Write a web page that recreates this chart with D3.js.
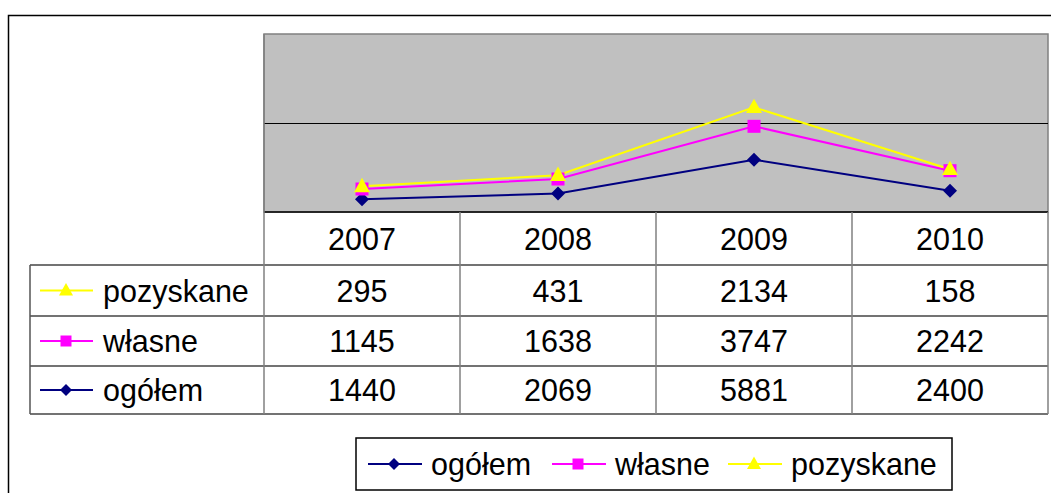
<!DOCTYPE html>
<html>
<head>
<meta charset="utf-8">
<script src="https://cdn.jsdelivr.net/npm/d3@7"></script>
<style>
  body { margin: 0; background: #fff; }
  text { font-family: "Liberation Sans", Arial, sans-serif; fill: #000; }
</style>
</head>
<body>
<svg id="chart" width="1051" height="493"></svg>
<script>
// values
var years = ["2007", "2008", "2009", "2010"];
var ogolem = [1440, 2069, 5881, 2400];
var wlasne = [1145, 1638, 3747, 2242];
var pozyskane = [295, 431, 2134, 158];
var yTicks = [0, 10000, 20000];

var series = [
    {key: "ogółem", values: ogolem, color: "#000080", shape: "diamond"},
    {key: "własne", values: wlasne, color: "#ff00ff", shape: "square"},
    {key: "pozyskane", values: pozyskane, color: "#ffff00", shape: "triangle"}
];

var plot = {left: 264, right: 1048, top: 34, bottom: 212};
var tableLeft = 30;
var rowEdges = [212, 265, 316, 366, 414];

var svg = d3.select("#chart");

// outer frame (runs off the right and bottom edge)
svg.append("rect")
    .attr("x", 8.5).attr("y", 15.5)
    .attr("width", 1200).attr("height", 600)
    .attr("fill", "none").attr("stroke", "#000").attr("stroke-width", 1.5);

var x = d3.scaleBand().domain(years).range([plot.left, plot.right]);
var y = d3.scaleLinear().domain([0, 20000]).range([plot.bottom, plot.top]);

// stacked line chart: ogółem at the bottom
var rows = years.map(function(yr, i) {
    var o = {year: yr};
    series.forEach(function(s) { o[s.key] = s.values[i]; });
    return o;
});
var stack = d3.stack().keys(series.map(function(s) { return s.key; }));
var stacked = stack(rows);

// plot area
svg.append("rect")
    .attr("x", plot.left).attr("y", plot.top)
    .attr("width", plot.right - plot.left).attr("height", plot.bottom - plot.top)
    .attr("fill", "#c0c0c0").attr("stroke", "#808080").attr("stroke-width", 1.5);

svg.append("g").selectAll("line")
    .data(yTicks.slice(1, -1))
    .enter().append("line")
    .attr("x1", plot.left).attr("x2", plot.right)
    .attr("y1", function(d) { return Math.round(y(d)) + 0.5; })
    .attr("y2", function(d) { return Math.round(y(d)) + 0.5; })
    .attr("stroke", "#000").attr("stroke-width", 1.2);

function marker(shape, r) {
    if (shape === "diamond") {
        return "M0," + (-r) + "L" + r + ",0L0," + r + "L" + (-r) + ",0Z";
    }
    if (shape === "square") {
        return "M" + (-r) + "," + (-r) + "h" + (2 * r) + "v" + (2 * r) + "h" + (-2 * r) + "Z";
    }
    var h = r * 1.8;
    return "M0," + (-h * 0.6) + "L" + r + "," + (h * 0.4) + "L" + (-r) + "," + (h * 0.4) + "Z";
}
var markerSize = {diamond: 7, square: 6.5, triangle: 8};

var line = d3.line()
    .x(function(d) { return x(d.data.year) + x.bandwidth() / 2; })
    .y(function(d) { return y(d[1]); });

stacked.forEach(function(layer, i) {
    var s = series[i];
    svg.append("path")
        .datum(layer)
        .attr("d", line)
        .attr("fill", "none")
        .attr("stroke", s.color)
        .attr("stroke-width", 2);
});
stacked.forEach(function(layer, i) {
    var s = series[i];
    svg.append("g").selectAll("path")
        .data(layer)
        .enter().append("path")
        .attr("transform", function(d) {
            return "translate(" + (x(d.data.year) + x.bandwidth() / 2) + "," + y(d[1]) + ")";
        })
        .attr("d", marker(s.shape, markerSize[s.shape]))
        .attr("fill", s.color);
});

// data table
var grid = svg.append("g").attr("stroke", "#555").attr("stroke-width", 1.5);
rowEdges.forEach(function(ry, i) {
    grid.append("line")
        .attr("x1", i === 0 ? plot.left : tableLeft).attr("x2", plot.right)
        .attr("y1", ry).attr("y2", ry)
        .attr("stroke", i === 0 ? "#000" : "#444");
});
grid.append("line")
    .attr("x1", tableLeft).attr("x2", tableLeft)
    .attr("y1", rowEdges[1]).attr("y2", rowEdges[4]);
grid.append("line")
    .attr("x1", plot.left).attr("x2", plot.left)
    .attr("y1", plot.top).attr("y2", rowEdges[4]).attr("stroke", "#808080");
years.forEach(function(yr) {
    grid.append("line")
        .attr("x1", x(yr) + x.bandwidth()).attr("x2", x(yr) + x.bandwidth())
        .attr("y1", rowEdges[0]).attr("y2", rowEdges[4]).attr("stroke", "#808080");
});

var fontSize = 30.5;
svg.append("g").selectAll("text")
    .data(years)
    .enter().append("text")
    .attr("x", function(d) { return x(d) + x.bandwidth() / 2; })
    .attr("y", (rowEdges[0] + rowEdges[1]) / 2 + 11)
    .attr("text-anchor", "middle")
    .style("font-size", fontSize + "px")
    .text(function(d) { return d; });

// table rows: pozyskane, własne, ogółem (top to bottom)
var tableSeries = series.slice().reverse();
tableSeries.forEach(function(s, r) {
    var cy = (rowEdges[r + 1] + rowEdges[r + 2]) / 2;
    var g = svg.append("g");
    g.append("line")
        .attr("x1", 40).attr("x2", 93).attr("y1", cy).attr("y2", cy)
        .attr("stroke", s.color).attr("stroke-width", 2);
    g.append("path")
        .attr("transform", "translate(66," + cy + ")")
        .attr("d", marker(s.shape, markerSize[s.shape] - 1))
        .attr("fill", s.color);
    g.append("text")
        .attr("x", 103).attr("y", cy + 11)
        .style("font-size", fontSize + "px")
        .text(s.key);
    g.selectAll("text.val")
        .data(s.values)
        .enter().append("text")
        .attr("class", "val")
        .attr("x", function(d, i) { return x(years[i]) + x.bandwidth() / 2; })
        .attr("y", cy + 11)
        .attr("text-anchor", "middle")
        .style("font-size", fontSize + "px")
        .text(function(d) { return d; });
});

// legend
var legend = {x: 356, y: 438, w: 596, h: 52};
svg.append("rect")
    .attr("x", legend.x).attr("y", legend.y)
    .attr("width", legend.w).attr("height", legend.h)
    .attr("fill", "#fff").attr("stroke", "#000").attr("stroke-width", 1.5);
var legendX = [368, 552, 728];
series.forEach(function(s, i) {
    var cy = legend.y + legend.h / 2;
    var lx = legendX[i];
    var g = svg.append("g");
    g.append("line")
        .attr("x1", lx).attr("x2", lx + 54).attr("y1", cy).attr("y2", cy)
        .attr("stroke", s.color).attr("stroke-width", 2);
    g.append("path")
        .attr("transform", "translate(" + (lx + 26) + "," + cy + ")")
        .attr("d", marker(s.shape, markerSize[s.shape] - 1))
        .attr("fill", s.color);
    g.append("text")
        .attr("x", lx + 63).attr("y", cy + 11)
        .style("font-size", fontSize + "px")
        .text(s.key);
});
</script>
</body>
</html>
